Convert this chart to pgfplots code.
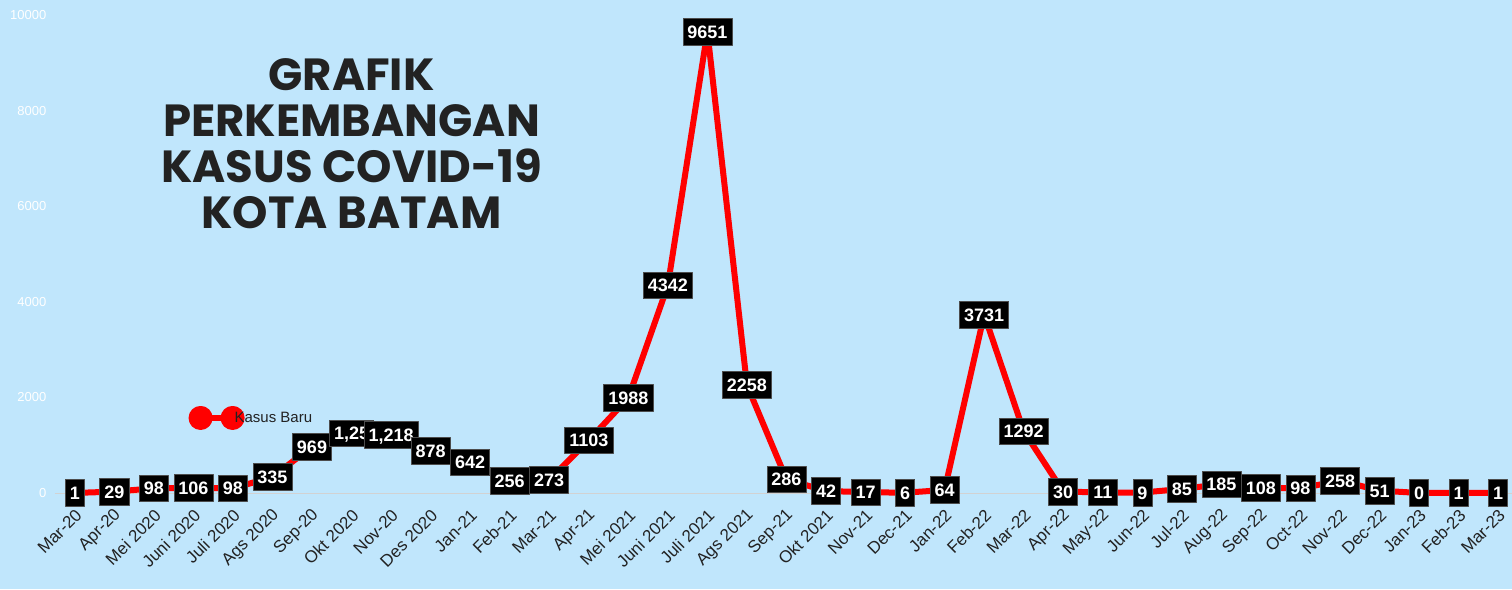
\documentclass[border=0pt]{standalone}
\usepackage{fontspec}
\setmainfont{Liberation Sans}
\newfontfamily\titlefont{Poppins}
\usepackage{pgfplots}
\pgfplotsset{compat=1.18}
\definecolor{bgblue}{RGB}{192,230,252}
\definecolor{darktext}{RGB}{34,34,34}
\begin{document}
\begin{tikzpicture}
\fill[bgblue] (-55pt,-96pt) rectangle (1457pt,493pt);
\begin{axis}[
  scale only axis, width=1457pt, height=478pt,
  xmin=-0.5, xmax=36.35, ymin=0, ymax=10000,
  axis lines=left, axis line style={draw=none},
  tick style={draw=none},
  clip=false,
  /pgf/number format/assume math mode=true,
  xtick={0,...,36},
  xticklabels={Mar-20,Apr-20,Mei 2020,Juni 2020,Juli 2020,Ags 2020,Sep-20,Okt 2020,Nov-20,Des 2020,Jan-21,Feb-21,Mar-21,Apr-21,Mei 2021,Juni 2021,Juli 2021,Ags 2021,Sep-21,Okt 2021,Nov-21,Dec-21,Jan-22,Feb-22,Mar-22,Apr-22,May-22,Jun-22,Jul-22,Aug-22,Sep-22,Oct-22,Nov-22,Dec-22,Jan-23,Feb-23,Mar-23},
  xticklabel style={rotate=45, anchor=east, font=\fontsize{17}{19}\selectfont, text=darktext, xshift=-6pt, yshift=-15pt},
  ytick={0,2000,...,10000},
  yticklabel style={text=white, font=\fontsize{13}{15}\selectfont, /pgf/number format/1000 sep={}, xshift=-3pt},
  scaled y ticks=false,
  legend style={at={(rel axis cs:0.0895,0.157)}, anchor=west, draw=none, fill=none, font=\fontsize{15}{17}\selectfont, text=darktext,
    /tikz/every odd column/.append style={column sep=-12pt}},
]
\draw[gray!35, line width=1pt] (rel axis cs:0,0) -- (rel axis cs:1,0);
\addplot[red, line width=6pt, line join=round, mark=none,
  nodes near coords, point meta=explicit symbolic,
  every node near coord/.append style={anchor=center, fill=black, draw=gray!60!black, line width=0.6pt, text=white,
    font=\bfseries\fontsize{18}{18}\selectfont, inner xsep=4.5pt, inner ysep=6.8pt, text height=13pt, text depth=0pt},
  legend image code/.code={
    \draw[red, line width=6pt] (0pt,0pt) -- (32pt,0pt);
    \fill[red] (0pt,0pt) circle (9pt);
    \fill[red] (32pt,0pt) circle (9pt);}
] table[meta=l] {
x y l
0 1 1
1 29 29
2 98 98
3 106 106
4 98 98
5 335 335
6 969 969
7 1250 1,25
8 1218 1,218
9 878 878
10 642 642
11 256 256
12 273 273
13 1103 1103
14 1988 1988
15 4342 4342
16 9651 9651
17 2258 2258
18 286 286
19 42 42
20 17 17
21 6 6
22 64 64
23 3731 3731
24 1292 1292
25 30 30
26 11 11
27 9 9
28 85 85
29 185 185
30 108 108
31 98 98
32 258 258
33 51 51
34 0 0
35 1 1
36 1 1
};
\addlegendentry{Kasus Baru}
\node[font=\titlefont\bfseries\fontsize{45}{46}\selectfont, text=darktext, align=center] at (axis cs:7.0,7300) {GRAFIK\\PERKEMBANGAN\\KASUS COVID-19\\KOTA BATAM};
\end{axis}
\pgfresetboundingbox
\useasboundingbox (-55pt,-96pt) rectangle (1457pt,493pt);
\end{tikzpicture}
\end{document}
